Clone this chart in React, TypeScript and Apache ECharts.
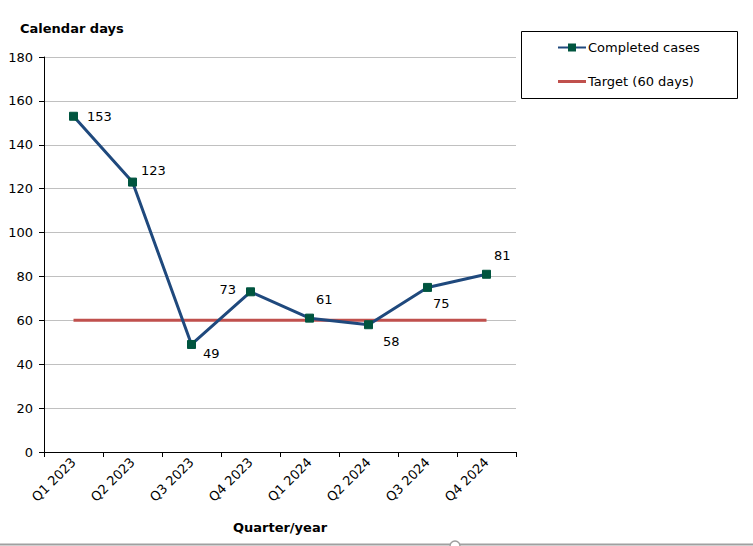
import React, { useEffect, useRef } from "react";
import * as echarts from "echarts";

const categories = ["Q1 2023", "Q2 2023", "Q3 2023", "Q4 2023", "Q1 2024", "Q2 2024", "Q3 2024", "Q4 2024"];
const completedCases = [153, 123, 49, 73, 61, 58, 75, 81];
const targetDays = [60, 60, 60, 60, 60, 60, 60, 60];
const yTicks = { min: 0, max: 180, interval: 20 };

const labelPlacement: { position: string; offset: [number, number] }[] = [
  { position: "right", offset: [4, 0] },
  { position: "right", offset: [-1, -12] },
  { position: "right", offset: [2, 9] },
  { position: "left", offset: [-5, -2] },
  { position: "right", offset: [-3, -19] },
  { position: "right", offset: [5, 17] },
  { position: "right", offset: [-4, 16] },
  { position: "right", offset: [-2, -19] },
];

const FONT = "Verdana, 'DejaVu Sans', sans-serif";

export default function App() {
  const ref = useRef<HTMLDivElement>(null);
  useEffect(() => {
    if (!ref.current) return;
    const chart = echarts.init(ref.current, undefined, { renderer: "svg" });
    chart.setOption({
      animation: false,
      backgroundColor: "#ffffff",
      textStyle: { fontFamily: FONT },
      grid: { left: 44, right: 237, top: 57, bottom: 94, containLabel: false },
      graphic: [
        {
          type: "text",
          left: 20,
          top: 22,
          style: { text: "Calendar days", font: `bold 13px ${FONT}`, fill: "#000" },
        },
        {
          type: "rect",
          shape: { x: 521.5, y: 31.5, width: 216, height: 67 },
          style: { fill: "none", stroke: "#000", lineWidth: 1 },
        },
        {
          type: "line",
          shape: { x1: 0, y1: 544.5, x2: 753, y2: 544.5 },
          style: { stroke: "#a0a0a0", lineWidth: 2 },
        },
        {
          type: "circle",
          shape: { cx: 455, cy: 546, r: 5 },
          style: { fill: "#fff", stroke: "#a0a0a0", lineWidth: 1.5 },
        },
      ],
      legend: {
        orient: "vertical",
        left: 557,
        top: 41,
        padding: 0,
        itemGap: 21,
        itemWidth: 28,
        itemHeight: 10,
        textStyle: { fontFamily: FONT, fontSize: 13, color: "#000", padding: [0, 0, 0, -3] },
        data: [
          { name: "Completed cases" },
          { name: "Target (60 days)", icon: "path://M0,0H28V3H0Z" },
        ],
      },
      xAxis: {
        type: "category",
        data: categories,
        boundaryGap: true,
        name: "Quarter/year",
        nameLocation: "middle",
        nameGap: 69,
        nameTextStyle: { fontFamily: FONT, fontSize: 13, fontWeight: "bold", color: "#000" },
        axisLine: { lineStyle: { color: "#000", width: 1 } },
        axisTick: { show: true, alignWithLabel: false, length: 5, lineStyle: { color: "#000" } },
        axisLabel: { rotate: 45, fontFamily: FONT, fontSize: 13, color: "#000", margin: 8, interval: 0 },
        splitLine: { show: false },
      },
      yAxis: {
        type: "value",
        min: yTicks.min,
        max: yTicks.max,
        interval: yTicks.interval,
        axisLine: { show: true, lineStyle: { color: "#000", width: 1 } },
        axisTick: { show: true, length: 5, lineStyle: { color: "#000" } },
        axisLabel: { fontFamily: FONT, fontSize: 13, color: "#000", margin: 11 },
        splitLine: { show: true, lineStyle: { color: "#c0c0c0", width: 1 } },
      },
      series: [
        {
          name: "Completed cases",
          type: "line",
          data: completedCases.map((v, i) => ({
            value: v,
            label: {
              show: true,
              position: labelPlacement[i].position,
              offset: labelPlacement[i].offset,
            },
          })),
          symbol: "rect",
          symbolSize: 8,
          showAllSymbol: true,
          lineStyle: { color: "#1f497d", width: 3 },
          itemStyle: { color: "#00553f", borderColor: "#00553f" },
          label: { fontFamily: FONT, fontSize: 13, color: "#000", distance: 5 },
          z: 3,
        },
        {
          name: "Target (60 days)",
          type: "line",
          data: targetDays,
          symbol: "none",
          lineStyle: { color: "#c0504d", width: 3 },
          itemStyle: { color: "#c0504d" },
          z: 2,
        },
      ],
    });
    return () => chart.dispose();
  }, []);
  return (
    <div
      ref={ref}
      style={{ position: "fixed", left: 0, top: 0, width: 753, height: 546 }}
    />
  );
}
